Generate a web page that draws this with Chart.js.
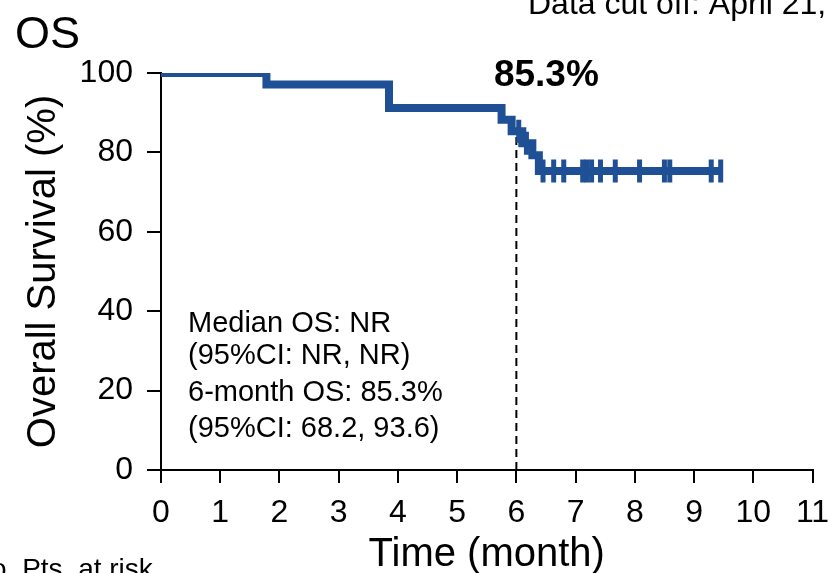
<!DOCTYPE html>
<html>
<head>
<meta charset="utf-8">
<script src="https://cdn.jsdelivr.net/npm/chart.js@4.4.1/dist/chart.umd.min.js"></script>
<style>
  html, body { margin: 0; padding: 0; background: #fff; overflow: hidden; }
  canvas { display: block; }
</style>
</head>
<body>
<canvas id="os" width="829" height="573"></canvas>
<script>
// Kaplan–Meier overall survival: event times (months) and survival (%) after each event
const eventMonths = [0, 1.78, 3.85, 5.75, 5.92, 6.10, 6.27, 6.38, 9.45];
const survivalPct = [100, 97.1, 91.2, 88.2, 85.3, 82.3, 79.3, 75.3, 75.3];

// Censored patients (tick marks on the curve)
const censorMonths = [6.04, 6.17, 6.45, 6.63, 6.80, 7.12, 7.19, 7.27, 7.42, 7.67, 8.08, 8.50, 8.59, 9.29, 9.45];
const censorPct    = [85.3, 82.3, 75.3, 75.3, 75.3, 75.3, 75.3, 75.3, 75.3, 75.3, 75.3, 75.3, 75.3, 75.3, 75.3];

// Landmark estimate at 6 months
const landmarkMonth = 6;
const landmarkOS = 85.3;

// Axis ranges
const monthRange = [0, 11];
const pctRange = [0, 100];

// Summary statistics box
const summaryLines = ['Median OS: NR', '(95%CI: NR, NR)', '6-month OS: 85.3%', '(95%CI: 68.2, 93.6)'];

const BLUE = '#1f5096';
const FONT = '"Liberation Sans", Arial, sans-serif';

const kmText = {
  id: 'kmText',
  beforeDatasetsDraw(chart) {
    const { ctx, scales: { x, y } } = chart;
    const px = x.getPixelForValue(landmarkMonth);
    ctx.save();
    ctx.strokeStyle = '#000';
    ctx.lineWidth = 2;
    ctx.setLineDash([8, 5]);
    ctx.beginPath();
    ctx.moveTo(px, y.getPixelForValue(0));
    ctx.lineTo(px, y.getPixelForValue(landmarkOS));
    ctx.stroke();
    ctx.restore();
  },
  afterDraw(chart) {
    const { ctx, chartArea, scales: { x } } = chart;
    ctx.save();
    ctx.fillStyle = '#000';
    ctx.textBaseline = 'alphabetic';

    // panel heading and cut-off note
    ctx.textAlign = 'left';
    ctx.font = '45px ' + FONT;
    ctx.fillText('OS', 15, 48);
    ctx.font = '32px ' + FONT;
    ctx.fillText('Data cut off: April 21,', 528, 14);

    // landmark value
    ctx.textAlign = 'center';
    ctx.font = 'bold 37px ' + FONT;
    ctx.fillText(landmarkOS.toFixed(1) + '%', x.getPixelForValue(landmarkMonth) + 30, 86);

    // summary statistics
    ctx.textAlign = 'left';
    ctx.font = '29px ' + FONT;
    const baselines = [332, 364, 401, 437];
    summaryLines.forEach((t, i) => ctx.fillText(t, 188, baselines[i]));

    // axis titles
    ctx.font = '40px ' + FONT;
    ctx.textAlign = 'center';
    ctx.fillText('Time (month)', (chartArea.left + chartArea.right) / 2, 566);
    ctx.save();
    ctx.translate(55, (chartArea.top + chartArea.bottom) / 2);
    ctx.rotate(-Math.PI / 2);
    ctx.fillText('Overall Survival (%)', 0, 0);
    ctx.restore();

    // risk table heading
    ctx.textAlign = 'left';
    ctx.font = '28px ' + FONT;
    ctx.fillText('o  Pts. at risk', -9, 578);
    ctx.restore();
  }
};

new Chart(document.getElementById('os'), {
  type: 'scatter',
  data: {
    datasets: [
      {
        label: 'OS',
        data: eventMonths.map((m, i) => ({ x: m, y: survivalPct[i] })),
        showLine: true,
        stepped: 'before',
        borderColor: BLUE,
        borderWidth: 8,
        borderCapStyle: 'butt',
        borderJoinStyle: 'miter',
        pointRadius: 0,
        fill: false,
        order: 2
      },
      {
        label: 'Censored',
        data: censorMonths.map((m, i) => ({ x: m, y: censorPct[i] })),
        showLine: false,
        pointStyle: 'line',
        rotation: 90,
        pointRadius: 11.5,
        pointBorderWidth: 5,
        borderColor: BLUE,
        backgroundColor: BLUE,
        order: 1
      }
    ]
  },
  options: {
    responsive: false,
    animation: false,
    events: [],
    layout: { padding: { top: 73, right: 11, bottom: 0, left: 0 } },
    plugins: { legend: { display: false }, tooltip: { enabled: false } },
    scales: {
      x: {
        type: 'linear',
        min: monthRange[0],
        max: monthRange[1],
        afterFit(s) { s.height = 103; s.paddingLeft = 0; s.paddingRight = 0; },
        ticks: { stepSize: 1, color: '#000', font: { family: FONT, size: 32 }, padding: 11, maxRotation: 0, autoSkip: false },
        grid: { drawOnChartArea: false, drawTicks: true, tickLength: 13, color: '#000', lineWidth: 2 },
        border: { display: true, color: '#000', width: 2 }
      },
      y: {
        type: 'linear',
        min: pctRange[0],
        max: pctRange[1],
        afterFit(s) { s.width = 161; },
        ticks: { stepSize: 20, color: '#000', font: { family: FONT, size: 32 }, padding: 14 },
        grid: { drawOnChartArea: false, drawTicks: true, tickLength: 14, color: '#000', lineWidth: 2 },
        border: { display: true, color: '#000', width: 2 }
      }
    }
  },
  plugins: [kmText]
});
</script>
</body>
</html>
